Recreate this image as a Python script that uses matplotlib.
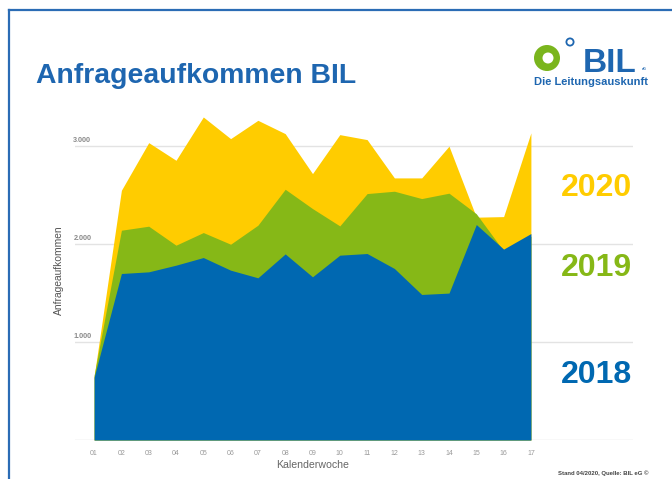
import matplotlib.pyplot as plt
from matplotlib.patches import Circle
from matplotlib.lines import Line2D

plt.rcParams['font.family'] = ['Liberation Sans', 'DejaVu Sans']

# Kalenderwochen 01..17
weeks = list(range(1, 18))
week_labels = ['{:02d}'.format(w) for w in weeks]

# Anfragen je Woche
y2018 = [640, 1700, 1717, 1785, 1863, 1734, 1656, 1900, 1666, 1887, 1904, 1751, 1486, 1500, 2200, 1949, 2108]
y2019 = [660, 2142, 2183, 1989, 2118, 1999, 2193, 2560, 2363, 2186, 2516, 2540, 2465, 2520, 2310, 1930, 2080]
y2020 = [650, 2550, 3036, 2856, 3298, 3077, 3264, 3128, 2720, 3118, 3067, 2676, 2676, 3000, 2275, 2281, 3136]

yticks = [1000, 2000, 3000]
ytick_labels = ['1.000', '2.000', '3.000']

years = ['2020', '2019', '2018']
year_values = [y2020, y2019, y2018]
year_colors = ['#FFCC00', '#86B817', '#0068B1']
year_label_y = [188, 268, 375]  # Pixel im Bild

blue = '#1E66B0'
W, H = 672, 479

fig = plt.figure(figsize=(W / 100, H / 100), dpi=100)
ax = fig.add_axes([75 / W, 39 / H, 558 / W, 333 / H])

for vals, col in zip(year_values, year_colors):
    ax.fill_between(weeks, 0, vals, color=col, linewidth=0, zorder=2)

ax.set_xlim(0.3, 20.74)
ax.set_ylim(0, 3400)
for t, lab in zip(yticks, ytick_labels):
    ax.axhline(t, color='#e3e3e3', lw=1.0, zorder=1)
    ax.text(-0.003, t + 25, lab, transform=ax.get_yaxis_transform(), ha='left', va='bottom',
            fontsize=5.2, fontweight='bold', color='#8a8a8a')
ax.axhline(0, color='#dddddd', lw=1.0, zorder=1)

ax.set_yticks([])
ax.set_xticks(weeks)
ax.set_xticklabels(week_labels, fontsize=5, color='#999999')
ax.tick_params(axis='x', length=0, pad=7)
for s in ax.spines.values():
    s.set_visible(False)
ax.set_facecolor('none')

ax.text(9, -0.075, 'Kalenderwoche', transform=ax.get_xaxis_transform(), ha='center', va='center',
        fontsize=7.6, color='#666666')

# Overlay in Pixelkoordinaten fuer Rahmen, Titel, Logo
ov = fig.add_axes([0, 0, 1, 1], zorder=-1)
ov.set_xlim(0, W)
ov.set_ylim(H, 0)
ov.axis('off')
ov.add_line(Line2D([9, W], [10, 10], color='#2B6CB5', lw=1.6))
ov.add_line(Line2D([9, 9], [10, H], color='#2B6CB5', lw=1.6))

ov.text(36, 76, 'Anfrageaufkommen BIL', fontsize=20.4, fontweight='bold', color=blue, ha='left', va='center')
ov.text(59, 270, 'Anfrageaufkommen', rotation=90, fontsize=7.4, color='#555555', ha='center', va='center')
ov.text(648, 473, 'Stand 04/2020, Quelle: BIL eG \u00a9', fontsize=4.3, fontweight='bold', color='#444444',
        ha='right', va='center')

for lab, col, py in zip(years, year_colors, year_label_y):
    ov.text(596, py, lab, fontsize=23, fontweight='bold', color=col, ha='center', va='center')

# Logo
ov.add_patch(Circle((547, 58), 13, facecolor='#7AB51D', edgecolor='none'))
ov.add_patch(Circle((548, 58), 5.5, facecolor='white', edgecolor='none'))
ov.add_patch(Circle((570, 42), 3.6, facecolor='none', edgecolor=blue, lw=1.3))
ov.text(610, 72, 'BIL', fontsize=24, fontweight='bold', color=blue, ha='center', va='baseline')
ov.text(644, 69, 'eG', fontsize=2.6, fontweight='bold', color=blue, ha='center', va='center')
ov.text(591, 82, 'Die Leitungsauskunft', fontsize=8, fontweight='bold', color=blue, ha='center', va='center')

fig.savefig('out.png', dpi=100)
